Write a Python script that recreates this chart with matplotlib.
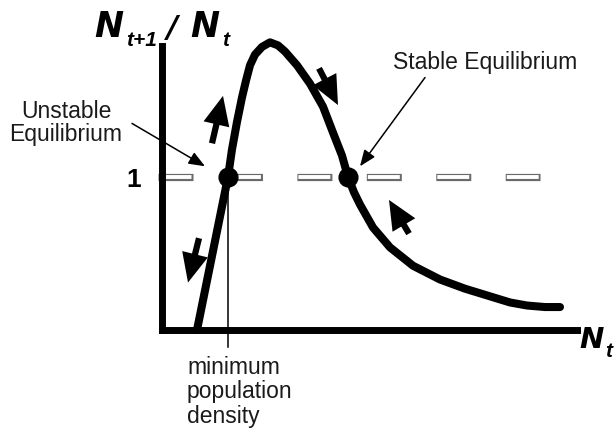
import matplotlib
matplotlib.use("Agg")
import matplotlib.pyplot as plt

plt.rcParams['font.family'] = ['Liberation Sans', 'DejaVu Sans']
plt.rcParams['lines.scale_dashes'] = False

# ---- data ----
Nt = [0.35, 0.66, 0.70, 0.75, 0.80, 0.84, 0.88, 0.93, 1.00, 1.08, 1.16, 1.23,
      1.35, 1.48, 1.61, 1.71, 1.80, 1.86, 1.92, 1.98, 2.11, 2.28, 2.51, 2.78,
      3.03, 3.28, 3.48, 3.65, 3.83, 3.98]
ratio = [0.00, 1.00, 1.18, 1.36, 1.52, 1.63, 1.73, 1.80, 1.85, 1.88, 1.86, 1.82,
         1.73, 1.61, 1.46, 1.29, 1.14, 1.00, 0.90, 0.82, 0.67, 0.54, 0.42, 0.33,
         0.27, 0.22, 0.18, 0.16, 0.15, 0.15]
equilibria_x = [0.66, 1.86]
equilibria_y = [1.0, 1.0]
ref_line_x = [-0.04, 3.78]
ref_line_y = [1.0, 1.0]
ytick_vals = [1]
ytick_labels = ['1']

W, H = 616, 435
fig = plt.figure(figsize=(W / 100, H / 100), dpi=100)
ax = fig.add_axes([162 / W, (H - 331) / H, 415 / W, 284 / H])
ax.set_xlim(0, 4.15)
ax.set_ylim(0, 1.856)

for s in ['top', 'right']:
    ax.spines[s].set_visible(False)
for s in ['left', 'bottom']:
    ax.spines[s].set_linewidth(5)
    ax.spines[s].set_capstyle('projecting')
    ax.spines[s].set_zorder(6)

ax.set_xticks([])
ax.set_yticks(ytick_vals)
ax.set_yticklabels(ytick_labels, fontsize=19, fontweight='bold')
ax.tick_params(axis='y', length=0, pad=15)

# hollow dashed reference line at 1
ax.plot(ref_line_x, ref_line_y, color='#6a6a6a', lw=5.2,
        linestyle=(0, (25.2, 24.8)), dash_capstyle='butt', zorder=2, clip_on=False)
ax.plot(ref_line_x, ref_line_y, color='white', lw=2.8,
        linestyle=(48.9, (23.0, 27.0)), dash_capstyle='butt', zorder=3, clip_on=False)

# curve
ax.plot(Nt, ratio, color='black', lw=5.8, solid_joinstyle='round',
        solid_capstyle='round', zorder=4, clip_on=False)
ax.plot(equilibria_x, equilibria_y, 'o', color='black', ms=13.5, zorder=5, clip_on=False)

# vertical thin line at minimum population density
ax.plot([equilibria_x[0], equilibria_x[0]], [1.0, -0.11], color='black', lw=1.1,
        zorder=4, clip_on=False)

# direction arrows
arrow_style = 'simple,head_width=1.9,head_length=2.1,tail_width=0.45'
arrows = [((0.50, 1.22), (0.61, 1.53)),
          ((0.37, 0.60), (0.26, 0.31)),
          ((1.57, 1.71), (1.76, 1.47)),
          ((2.47, 0.63), (2.27, 0.85))]
for tail, tip in arrows:
    ax.annotate('', xy=tip, xytext=tail,
                arrowprops=dict(arrowstyle=arrow_style, mutation_scale=10,
                                color='black', shrinkA=0, shrinkB=0, lw=0),
                annotation_clip=False, zorder=5)

# annotations
txt_kw = dict(fontsize=16.5, color='#1a1a1a')
thin = dict(arrowstyle='-|>,head_length=0.7,head_width=0.28', color='black',
            lw=1.1, shrinkA=0, shrinkB=0, mutation_scale=14)
ax.annotate('', xy=(0.43, 1.07), xytext=(-0.30, 1.35), arrowprops=thin,
            annotation_clip=False)
ax.annotate('', xy=(1.98, 1.07), xytext=(2.63, 1.65), arrowprops=thin,
            annotation_clip=False)


def fx(px):
    return px / W


def fy(py):
    return 1 - py / H


fig.text(fx(66), fy(123), 'Unstable\nEquilibrium', ha='center', va='center',
         linespacing=1.05, **txt_kw)
fig.text(fx(485), fy(62), 'Stable Equilibrium', ha='center', va='center', **txt_kw)
fig.text(fx(187), fy(356), 'minimum\npopulation\ndensity', ha='left', va='top',
         linespacing=1.07, **txt_kw)

# axis titles (bold italic)
big = dict(family='DejaVu Sans', fontweight='bold', fontstyle='oblique',
           color='black', va='baseline', ha='left')
small = dict(family='Liberation Sans', fontweight='bold', fontstyle='italic',
             color='black', va='baseline', ha='left')
fig.text(fx(94), fy(37), 'N', fontsize=25, **big)
fig.text(fx(126), fy(46), 't+1', fontsize=15, **small)
fig.text(fx(167), fy(37), '/', fontsize=22, **big)
fig.text(fx(190), fy(37), 'N', fontsize=25, **big)
fig.text(fx(222), fy(46), 't', fontsize=15, **small)

fig.text(fx(579), fy(348), 'N', fontsize=21, **big)
fig.text(fx(605), fy(357), 't', fontsize=15, **small)

fig.savefig('out.png', dpi=100, facecolor='white')
